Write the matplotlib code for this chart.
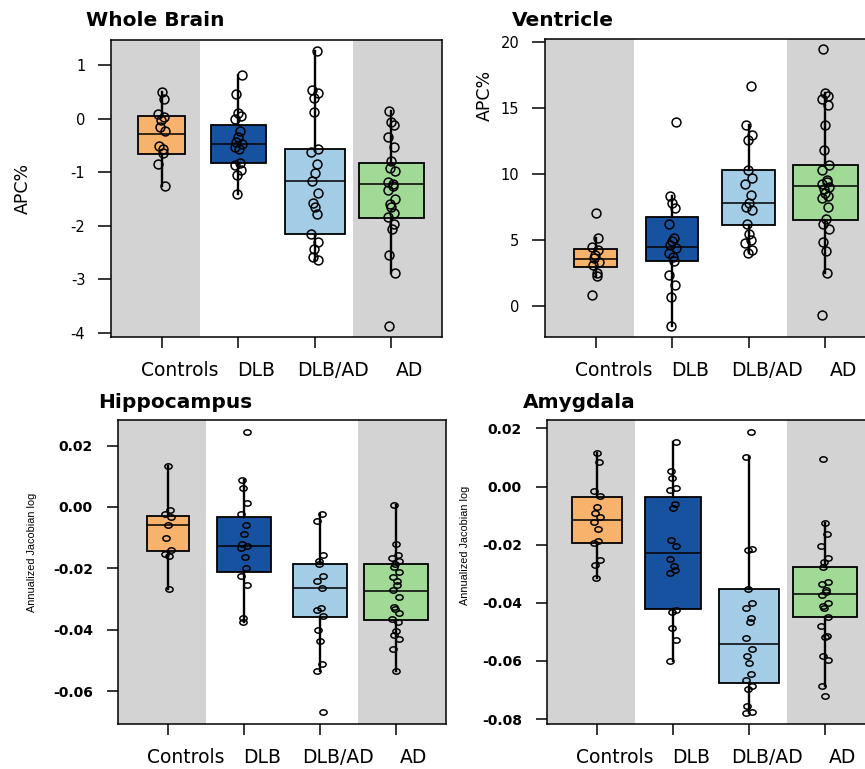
import numpy as np
import matplotlib
matplotlib.use("Agg")
import matplotlib.pyplot as plt
from matplotlib.path import Path
from matplotlib.transforms import ScaledTranslation

groups = ["Controls", "DLB", "DLB/AD", "AD"]
fills = ["#F7B26B", "#1652A0", "#A3CCE6", "#A0DA96"]

# Whole brain, APC%
wb_controls = [0.50, 0.37, 0.08, 0.03, -0.03, -0.15, -0.23, -0.51, -0.57, -0.65, -0.85, -1.25]
wb_dlb = [0.82, 0.47, 0.11, 0.05, -0.01, -0.23, -0.34, -0.43, -0.48, -0.53, -0.57, -0.82,
          -0.86, -0.96, -1.06, -1.40]
wb_dlbad = [1.27, 0.53, 0.48, 0.39, 0.13, -0.57, -0.63, -0.85, -1.01, -1.16, -1.39, -1.57,
            -1.65, -1.79, -2.15, -2.30, -2.43, -2.58, -2.64]
wb_ad = [0.15, -0.06, -0.12, -0.35, -0.53, -0.80, -0.92, -0.97, -1.19, -1.22, -1.25, -1.34,
         -1.50, -1.59, -1.66, -1.76, -1.84, -1.96, -2.07, -2.55, -2.88, -3.87]
# (q1, median, q3) per group
wb_boxes = [(-0.66, -0.28, 0.05), (-0.835, -0.48, -0.12), (-2.15, -1.17, -0.56), (-1.86, -1.23, -0.835)]

# Ventricle, APC%
ven_controls = [7.02, 5.12, 4.49, 4.23, 3.85, 3.60, 3.35, 3.09, 2.46, 2.28, 0.81]
ven_dlb = [13.92, 8.37, 7.78, 7.40, 6.21, 5.12, 4.94, 4.61, 4.36, 4.03, 3.73, 3.42, 2.33,
           1.57, 0.68, -1.50]
ven_dlbad = [16.70, 13.69, 12.98, 12.60, 10.32, 9.68, 9.25, 8.42, 7.83, 7.53, 7.28, 6.21,
             5.45, 4.99, 4.74, 4.23, 3.98]
ven_ad = [19.49, 16.15, 15.94, 15.69, 15.26, 13.74, 11.84, 10.70, 10.32, 9.56, 9.43, 9.23,
          9.05, 8.85, 8.54, 8.34, 8.16, 7.53, 6.59, 6.21, 5.80, 4.87, 4.18, 2.46, -0.71]
ven_boxes = [(2.92, 3.57, 4.28), (3.42, 4.44, 6.72), (6.13, 7.81, 10.32), (6.51, 9.10, 10.70)]

# Hippocampus, annualized Jacobian log
hip_controls = [0.0132, -0.0011, -0.0022, -0.0032, -0.0060, -0.0100, -0.0141, -0.0154,
                -0.0160, -0.0268]
hip_dlb = [0.0245, 0.0087, 0.0063, 0.0013, -0.0022, -0.0060, -0.0089, -0.0119, -0.0128,
           -0.0132, -0.0162, -0.0198, -0.0224, -0.0254, -0.0362, -0.0373]
hip_dlbad = [-0.0022, -0.0045, -0.0157, -0.0175, -0.0186, -0.0224, -0.0240, -0.0265,
             -0.0330, -0.0335, -0.0354, -0.0400, -0.0436, -0.0510, -0.0535, -0.0668]
hip_ad = [0.0005, -0.0119, -0.0157, -0.0165, -0.0175, -0.0186, -0.0195, -0.0211, -0.0227,
          -0.0240, -0.0254, -0.0270, -0.0292, -0.0324, -0.0332, -0.0346, -0.0365, -0.0375,
          -0.0403, -0.0417, -0.0430, -0.0463, -0.0535]
hip_boxes = [(-0.0143, -0.0057, -0.0030), (-0.0213, -0.0128, -0.0032),
             (-0.0357, -0.0262, -0.0187), (-0.0368, -0.0272, -0.0187)]

# Amygdala, annualized Jacobian log
amy_controls = [0.0117, 0.0086, -0.0017, -0.0032, -0.0071, -0.0092, -0.0105, -0.0123,
                -0.0146, -0.0189, -0.0195, -0.0252, -0.0269, -0.0313]
amy_dlb = [0.0155, 0.0054, 0.0029, -0.0006, -0.0012, -0.0060, -0.0075, -0.0183, -0.0206,
           -0.0250, -0.0275, -0.0286, -0.0298, -0.0424, -0.0430, -0.0487, -0.0527, -0.0599]
amy_dlbad = [0.0189, 0.0100, -0.0215, -0.0220, -0.0353, -0.0399, -0.0418, -0.0453, -0.0466,
             -0.0521, -0.0559, -0.0582, -0.0607, -0.0645, -0.0667, -0.0685, -0.0696,
             -0.0754, -0.0777, -0.0779]
amy_ad = [0.0095, -0.0124, -0.0164, -0.0204, -0.0246, -0.0261, -0.0277, -0.0327, -0.0335,
          -0.0355, -0.0364, -0.0373, -0.0401, -0.0410, -0.0419, -0.0449, -0.0481, -0.0513,
          -0.0518, -0.0582, -0.0598, -0.0687, -0.0719]
amy_boxes = [(-0.0195, -0.0115, -0.0037), (-0.0422, -0.0227, -0.0037),
             (-0.0676, -0.0542, -0.0353), (-0.0449, -0.0369, -0.0278)]

W, H = 865, 769
fig = plt.figure(figsize=(W / 100, H / 100), dpi=100)

# slightly flattened circle for the lower panels
t = np.linspace(0, 2 * np.pi, 40)
oval = Path(np.column_stack([1.35 * np.cos(t), np.sin(t)]), closed=True)


def px_axes(l, t_, r, b):
    return fig.add_axes([l / W, 1 - b / H, (r - l) / W, (b - t_) / H])


def panel(ax, samples, boxes, ylim, yticks, fmt, lower):
    ax.set_xlim(0.34, 4.66)
    ax.set_ylim(*ylim)
    ax.axvspan(0.34, 1.5, color="#D3D3D3", lw=0, zorder=0)
    ax.axvspan(3.5, 4.66, color="#D3D3D3", lw=0, zorder=0)

    stats = []
    for pts, (q1, med, q3) in zip(samples, boxes):
        pts = np.asarray(pts)
        iqr = q3 - q1
        lo = pts[pts >= q1 - 1.5 * iqr].min()
        hi = pts[pts <= q3 + 1.5 * iqr].max()
        stats.append(dict(q1=q1, med=med, q3=q3, whislo=lo, whishi=hi))
    nmax = max(len(s) for s in samples)
    widths = [0.84 * np.sqrt(len(s) / nmax) for s in samples]

    bp = ax.bxp(stats, positions=[1, 2, 3, 4], widths=widths, patch_artist=True,
                showfliers=False, showcaps=False,
                boxprops=dict(edgecolor="black", linewidth=1.3),
                whiskerprops=dict(color="black", linewidth=1.7),
                medianprops=dict(color="black", linewidth=1.1), zorder=2)
    for patch, c in zip(bp["boxes"], fills):
        patch.set_facecolor(c)

    for i, pts in enumerate(samples):
        k = np.arange(len(pts))
        dx = 0.045 * np.sin(k * 2.4 + i * 1.3)
        if lower:
            ax.plot(i + 1 + dx, pts, linestyle="none", marker=oval, ms=5.2, mfc="none",
                    mec="black", mew=1.1, zorder=3)
        else:
            ax.plot(i + 1 + dx, pts, "o", ms=6.4, mfc="none", mec="black", mew=1.1,
                    zorder=3)

    for s in ax.spines.values():
        s.set_linewidth(1.1)
    ax.set_xticks([1, 2, 3, 4])
    ax.set_xticklabels(groups)
    ax.set_yticks(yticks)
    ax.set_yticklabels([fmt.format(v) for v in yticks])
    ax.tick_params(axis="x", length=8, width=1.1, pad=9.5, labelsize=13.5)
    if lower:
        ax.tick_params(axis="y", length=8, width=1.1, pad=10, labelsize=10)
        for lbl in ax.get_yticklabels():
            lbl.set_fontweight("bold")
    else:
        ax.tick_params(axis="y", length=9.5, width=1.1, pad=9, labelsize=10.5)
    shift = ScaledTranslation(18 / 100, 0, fig.dpi_scale_trans)
    for lbl in ax.get_xticklabels():
        lbl.set_transform(lbl.get_transform() + shift)


ax1 = px_axes(111, 40, 442, 337)
panel(ax1, [wb_controls, wb_dlb, wb_dlbad, wb_ad], wb_boxes, (-4.08, 1.47),
      [-4, -3, -2, -1, 0, 1], "{:g}", False)

ax2 = px_axes(545, 39, 876, 337)
panel(ax2, [ven_controls, ven_dlb, ven_dlbad, ven_ad], ven_boxes, (-2.36, 20.25),
      [0, 5, 10, 15, 20], "{:g}", False)

ax3 = px_axes(118, 420, 446, 724)
panel(ax3, [hip_controls, hip_dlb, hip_dlbad, hip_ad], hip_boxes, (-0.0706, 0.0283),
      [-0.06, -0.04, -0.02, 0.0, 0.02], "{:.2f}", True)

ax4 = px_axes(547, 420, 875, 724)
panel(ax4, [amy_controls, amy_dlb, amy_dlbad, amy_ad], amy_boxes, (-0.0817, 0.0229),
      [-0.08, -0.06, -0.04, -0.02, 0.0, 0.02], "{:.2f}", True)


def ftext(x, y, s, **kw):
    fig.text(x / W, 1 - y / H, s, **kw)


for x, y, s in [(86, 26, "Whole Brain"), (512, 26, "Ventricle"),
                (98, 408, "Hippocampus"), (523, 408, "Amygdala")]:
    ftext(x, y, s, fontsize=14.5, fontweight="bold", ha="left", va="baseline")

ftext(23, 188, "APC%", fontsize=12.5, rotation=90, ha="center", va="center")
ftext(485, 95, "APC%", fontsize=12.5, rotation=90, ha="center", va="center")
ftext(32, 552, "Annualized Jacobian log", fontsize=7.8, family="Liberation Sans",
      rotation=90, ha="center", va="center")
ftext(465, 545, "Annualized Jacobian log", fontsize=7.8, family="Liberation Sans",
      rotation=90, ha="center", va="center")

fig.savefig("out.png", dpi=100)
